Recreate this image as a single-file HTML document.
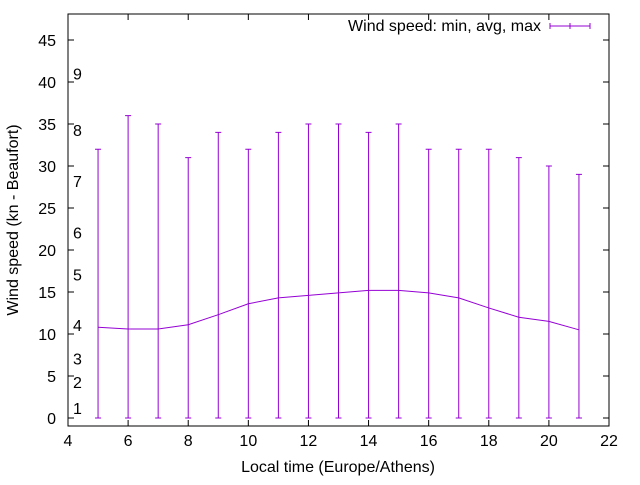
<!DOCTYPE html>
<html><head><meta charset="utf-8"><style>
body{margin:0;background:#fff}
svg text{font-family:"Liberation Sans",sans-serif;font-size:16px;fill:#000}
</style></head><body>
<svg id="chart" width="640" height="480" xmlns="http://www.w3.org/2000/svg"></svg>
<script>
const hours=[5,6,7,8,9,10,11,12,13,14,15,16,17,18,19,20,21];
const minVals=[0,0,0,0,0,0,0,0,0,0,0,0,0,0,0,0,0];
const avgVals=[10.8,10.6,10.6,11.1,12.3,13.6,14.3,14.6,14.9,15.2,15.2,14.9,14.3,13.1,12.0,11.5,10.5];
const maxVals=[32,36,35,31,34,32,34,35,35,34,35,32,32,32,31,30,29];
const xTicks=[4,6,8,10,12,14,16,18,20,22];
const yTicks=[0,5,10,15,20,25,30,35,40,45];
const beaufortLabels=["1","2","3","4","5","6","7","8","9"];
const beaufortVals=[1.2,4.3,7.1,11.1,17.1,22.1,28.2,34.3,41];
const L=68,R=609,T=14,B=426;
const X=v=>L+(v-4)*(R-L)/18;
const Y=v=>418-v*8.4;
const svg=document.getElementById('chart');
const NS='http://www.w3.org/2000/svg';
function mk(tag,attrs,parent){const e=document.createElementNS(NS,tag);for(const k in attrs)e.setAttribute(k,attrs[k]);(parent||svg).appendChild(e);return e;}
const frame=mk('rect',{x:L,y:T,width:R-L,height:B-T,fill:'none',stroke:'#000','stroke-width':1});


xTicks.forEach(t=>{
  const x=X(t);
  const tk=mk('path',{d:`M${x},${B}v-6M${x},${T}v6`,stroke:'#000'});
  
  
  const tx=mk('text',{x:x,y:B+20,'text-anchor':'middle'});tx.textContent=t;
  
  
});
yTicks.forEach(t=>{
  const y=Y(t);
  const tk=mk('path',{d:`M${L},${y}h6M${R},${y}h-6`,stroke:'#000'});
  
  
  const tx=mk('text',{x:L-12,y:y+6,'text-anchor':'end'});tx.textContent=t;
  
  
});
beaufortVals.forEach((v,i)=>{
  const tx=mk('text',{x:73,y:Y(v)+6});tx.textContent=beaufortLabels[i];
  
  
});
const c='#9400d3';
hours.forEach((h,i)=>{
  const x=X(h),y1=Y(minVals[i]),y2=Y(maxVals[i]);
  const eb=mk('path',{d:`M${x},${y1}V${y2}M${x-3},${y1}h6M${x-3},${y2}h6`,stroke:c,fill:'none'});
  
  
});
const line=mk('polyline',{points:hours.map((h,i)=>X(h)+','+Y(avgVals[i])).join(' '),fill:'none',stroke:c});


const lt=mk('text',{x:541,y:31,'text-anchor':'end'});lt.textContent='Wind speed: min, avg, max';


const lk=mk('path',{d:'M550,26h40M550,23v6M570,23v6M590,23v6',stroke:c,fill:'none'});


const xt=mk('text',{x:338,y:472,'text-anchor':'middle'});xt.textContent='Local time (Europe/Athens)';


const yt=mk('text',{x:0,y:0,'text-anchor':'middle',transform:'translate(18,220) rotate(-90)'});yt.textContent='Wind speed (kn - Beaufort)';


</script>
</body></html>
